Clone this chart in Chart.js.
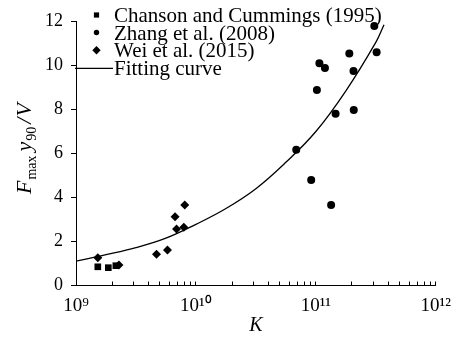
<!DOCTYPE html>
<html>
<head>
<meta charset="utf-8">
<script src="https://cdn.jsdelivr.net/npm/chart.js@4"></script>
<style>
  html, body { margin: 0; padding: 0; background: #fff; }
  #wrap { width: 464px; height: 338px; position: relative; }
</style>
</head>
<body>
<div id="wrap"><canvas id="c" width="464" height="338"></canvas></div>
<script>
// ---- data ----
const chansonK = [1.52e9, 1.86e9, 2.15e9];
const chansonV = [0.85, 0.81, 0.90];

const zhangK = [3.07e11, 3.21e11, 1.90e11, 1.07e11, 1.19e11, 2.06e11, 1.02e11, 1.46e11, 2.07e11, 6.86e10, 9.14e10, 1.34e11];
const zhangV = [11.8, 10.6, 10.54, 10.1, 9.89, 9.75, 8.89, 7.81, 7.98, 6.17, 4.80, 3.66];

const weiK = [1.52e9, 2.28e9, 4.69e9, 5.79e9, 6.70e9, 6.89e9, 8.07e9, 7.92e9];
const weiV = [1.26, 0.93, 1.42, 1.61, 3.13, 2.57, 3.66, 2.65];

const fitK = [1e9, 1.78e9, 3.16e9, 5.62e9, 1e10, 1.78e10, 3.16e10, 5.62e10, 1e11, 1.78e11, 3.16e11, 3.7e11];
const fitV = [1.11, 1.40, 1.72, 2.15, 2.78, 3.50, 4.40, 5.60, 7.00, 8.85, 11.05, 11.85];

const seriesNames = ['Chanson and Cummings (1995)', 'Zhang et al. (2008)', 'Wei et al. (2015)', 'Fitting curve'];

const xDecades = [1e9, 1e10, 1e11, 1e12];
const xTickLabels = ['10\u2079', '10\u00B9\u2070', '10\u00B9\u00B9', '10\u00B9\u00B2'];
const xMinorSteps = [2, 3, 4, 5, 6, 7, 8, 9];
const yTicks = [0, 2, 4, 6, 8, 10, 12];

const zip = (xs, ys) => xs.map((x, i) => ({x: x, y: ys[i]}));

const SERIF = '"Liberation Serif", "Times New Roman", serif';

// y-axis title with subscripts
const yTitlePlugin = {
  id: 'yTitle',
  afterDraw(chart) {
    const ctx = chart.ctx;
    ctx.save();
    ctx.fillStyle = '#000';
    ctx.translate(31, 194);
    ctx.rotate(-Math.PI / 2);
    ctx.textBaseline = 'alphabetic';
    let cx = 0;
    const part = (t, font, dy, gap) => {
      ctx.font = font;
      ctx.fillText(t, cx, dy);
      cx += ctx.measureText(t).width + gap;
    };
    part('F', 'italic 22px ' + SERIF, 0, 1);
    part('max', '14px ' + SERIF, 5, 4);
    part('y', 'italic 22px ' + SERIF, 0, 1);
    part('90', '14px ' + SERIF, 5, 3);
    part('/', 'italic 22px ' + SERIF, 0, 1);
    part('V', 'italic 22px ' + SERIF, 0, 0);
    ctx.restore();
  }
};

// legend drawn on top, upper-left of the plot
const legendPlugin = {
  id: 'customLegend',
  afterDraw(chart) {
    const ctx = chart.ctx;
    ctx.save();
    ctx.fillStyle = '#000';
    ctx.strokeStyle = '#000';
    const mx = 96.5, tx = 114;
    const rows = [15, 32.5, 50.3, 68.3];
    ctx.fillRect(mx - 2.6, rows[0] - 2.6, 5.2, 5.2);
    ctx.beginPath(); ctx.arc(mx, rows[1], 2.7, 0, Math.PI * 2); ctx.fill();
    ctx.beginPath();
    ctx.moveTo(mx - 4.2, rows[2]); ctx.lineTo(mx, rows[2] - 4.2);
    ctx.lineTo(mx + 4.2, rows[2]); ctx.lineTo(mx, rows[2] + 4.2);
    ctx.closePath(); ctx.fill();
    ctx.lineWidth = 1.3;
    ctx.beginPath(); ctx.moveTo(75, rows[3]); ctx.lineTo(113, rows[3]); ctx.stroke();
    ctx.font = '21px ' + SERIF;
    ctx.textBaseline = 'alphabetic';
    seriesNames.forEach((n, i) => ctx.fillText(n, tx, rows[i] + 7));
    ctx.restore();
  }
};

new Chart(document.getElementById('c'), {
  type: 'scatter',
  data: {
    datasets: [
      { label: seriesNames[0], data: zip(chansonK, chansonV), pointStyle: 'rect', pointRadius: 4.7,
        backgroundColor: '#000', borderWidth: 0, clip: false },
      { label: seriesNames[1], data: zip(zhangK, zhangV), pointStyle: 'circle', pointRadius: 4,
        backgroundColor: '#000', borderWidth: 0, clip: false },
      { label: seriesNames[2], data: zip(weiK, weiV), pointStyle: 'rectRot', pointRadius: 4.5,
        backgroundColor: '#000', borderWidth: 0, clip: false },
      { label: seriesNames[3], data: zip(fitK, fitV), showLine: true, pointRadius: 0,
        borderColor: '#000', borderWidth: 1.3, backgroundColor: '#000',
        tension: 0.4, fill: false }
    ]
  },
  options: {
    responsive: false,
    animation: false,
    devicePixelRatio: 1,
    layout: { padding: { left: 0, right: 27, top: 21.5, bottom: 0 } },
    plugins: { legend: { display: false }, tooltip: { enabled: false } },
    scales: {
      x: {
        type: 'logarithmic',
        min: 1e9, max: 1e12,
        border: { display: true, color: '#000', width: 1 },
        grid: { display: true, drawOnChartArea: false, drawTicks: true, tickLength: -4, color: '#000' },
        afterBuildTicks(scale) {
          const t = [];
          xDecades.forEach((d, i) => {
            t.push({ value: d, major: true });
            if (i < xDecades.length - 1) xMinorSteps.forEach(m => t.push({ value: d * m }));
          });
          scale.ticks = t;
        },
        ticks: {
          autoSkip: false, maxRotation: 0, minRotation: 0, padding: 13,
          color: '#000', font: { family: SERIF, size: 19 },
          callback(value) {
            const i = xDecades.findIndex(d => Math.abs(d - value) / d < 1e-6);
            return i >= 0 ? xTickLabels[i] : '';
          }
        },
        title: { display: true, text: 'K', color: '#000', padding: { top: 0, bottom: 0 },
                 font: { family: SERIF, size: 20, style: 'italic', lineHeight: 1.2 } },
        afterFit(scale) { scale.height = 52.5; }
      },
      y: {
        type: 'linear',
        min: 0, max: 12,
        border: { display: true, color: '#000', width: 1 },
        grid: { display: true, drawOnChartArea: false, drawTicks: true, tickLength: 5, color: '#000' },
        afterBuildTicks(scale) { scale.ticks = yTicks.map(v => ({ value: v })); },
        ticks: { padding: 8, color: '#000', font: { family: SERIF, size: 18 } },
        afterFit(scale) { scale.width = 76; }
      }
    }
  },
  plugins: [yTitlePlugin, legendPlugin]
});
</script>
</body>
</html>
